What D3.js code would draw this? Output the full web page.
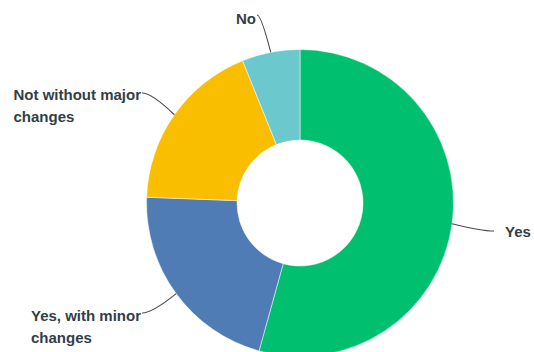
<!DOCTYPE html>
<html>
<head>
<meta charset="utf-8">
<script src="https://cdn.jsdelivr.net/npm/d3@7"></script>
<style>
  body { margin: 0; background: #fff; }
  svg { display: block; }
</style>
</head>
<body>
<div id="chart"></div>
<script>
// data
var categories = ["Yes", "Yes, with minor changes", "Not without major changes", "No"];
var values = [54.3, 21.3, 18.3, 6.1];
var labelLines = [["Yes"], ["Yes, with minor", "changes"], ["Not without major", "changes"], ["No"]];
var colors = ["#00bf6f", "#507cb6", "#f9be00", "#6bc8cd"];

// layout: where each label's leader line ends (x, y) and which side the text sits
var labelPos = [
  { x: 494, y: 231, side: "right", dy: 6 },
  { x: 142, y: 313, side: "left", dy: 8 },
  { x: 142, y: 93, side: "left", dy: 7 },
  { x: 257, y: 15, side: "left", dy: 9 }
];

var svgWidth = 534;
var svgHeight = 352;
var cx = 300, cy = 203;
var outerR = 153.5, innerR = 63;

var svg = d3.select("#chart")
  .append("svg")
  .attr("width", svgWidth)
  .attr("height", svgHeight);

var g = svg.append("g")
  .attr("transform", `translate(${cx}, ${cy})`);

var pie = d3.pie().sort(null).value(d => d);
var arcs = pie(values);

var arc = d3.arc().innerRadius(innerR).outerRadius(outerR);

g.selectAll("path.slice")
  .data(arcs)
  .enter()
  .append("path")
  .attr("class", "slice")
  .attr("d", arc)
  .attr("fill", (d, i) => colors[i])
  .attr("stroke", "#fff")
  .attr("stroke-width", 0.5);

// leader lines from the middle of each slice's outer edge
arcs.forEach(function (d, i) {
  var mid = (d.startAngle + d.endAngle) / 2;
  var ax = cx + outerR * Math.sin(mid);
  var ay = cy - outerR * Math.cos(mid);
  var p = labelPos[i];
  var ctrlX = p.x + (ax - p.x) * 0.3;
  var ctrlY = p.y;
  svg.append("path")
    .attr("d", `M${p.x},${p.y} Q${ctrlX},${ctrlY} ${ax},${ay}`)
    .attr("fill", "none")
    .attr("stroke", "#4a4a4a")
    .attr("stroke-width", 1.1);

  var text = svg.append("text")
    .attr("font-family", "Liberation Sans, Arial, sans-serif")
    .attr("font-weight", "bold")
    .attr("font-size", "15px")
    .attr("fill", "#333e48");

  var lines = labelLines[i];
  var tspans = lines.map(function (line, j) {
    return text.append("tspan")
      .attr("y", p.y + p.dy + j * 22)
      .text(line);
  });

  if (p.side === "right") {
    tspans.forEach(t => t.attr("x", p.x + 11));
  } else {
    var w = tspans[0].node().getComputedTextLength();
    var startX = p.x - 1 - w;
    tspans.forEach(t => t.attr("x", startX));
  }
});
</script>
</body>
</html>
